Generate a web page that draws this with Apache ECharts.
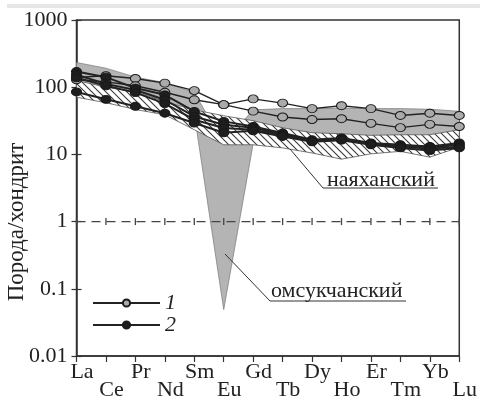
<!DOCTYPE html>
<html>
<head>
<meta charset="utf-8">
<script src="https://cdn.jsdelivr.net/npm/echarts@6/dist/echarts.min.js"></script>
<style>
html,body{margin:0;padding:0;background:#fff;}
#chart{width:480px;height:402px;}
</style>
</head>
<body>
<div id="chart"></div>
<script>
// ---- data ----
var elements = ['La','Ce','Pr','Nd','Sm','Eu','Gd','Tb','Dy','Ho','Er','Tm','Yb','Lu'];
var yTicks = [0.01, 0.1, 1, 10, 100, 1000];
// type 1 (grey symbols)
var type1a = [140, 148, 135, 115, 89, 55, 67, 58, 48, 53, 48, 38, 41, 38];
var type1b = [129, 120, 105, 84, 65, 55, 44, 36, 33, 34, 29, 25, 28, 26];
// type 2 (black symbols)
var type2a = [171, 141, 97, 77, 43.5, 31, 26, 20.8, 16.5, 17.5, 14.8, 13.9, 13.1, 14.8];
var type2b = [153, 112, 91, 65, 36.7, 27.6, 24.9, 20, 16, 17.1, 14.4, 13.7, 12.8, 13.9];
var type2c = [138, 105, 83, 57, 32.8, 24.7, 23.3, 19.3, 15.7, 16.8, 14.2, 13, 12.2, 13];
var type2d = [85, 66, 52, 41, 29.3, 21, 22.5, 18.5, 15.4, 16.3, 13.9, 12.5, 11.4, 12.5];
// field "омсукчанский" (grey)
var omsUpper = [233, 192, 141, 117, 83, 14.6, 46, 48, 48, 48.6, 48, 48, 47, 43.8];
var omsLower = [91, 77, 65, 55, 40, 0.049, 14.4, 16.5, 15.4, 14.4, 14.4, 14.4, 14.4, 16.5];
// field "наяханский" (hatched)
var nayUpper = [126, 100, 85, 61, 46, 37.6, 31.7, 24.9, 21, 20.3, 19.2, 19.6, 19.6, 23.3];
var nayLower = [71, 58.7, 46.6, 38.9, 23.3, 13.9, 13.9, 12.5, 10.5, 8.5, 10.2, 11.1, 9.1, 12.8];
// chondrite = 1 reference
var unityLine = [1,1,1,1,1,1,1,1,1,1,1,1,1,1];

var FONT = "'Liberation Serif','Times New Roman',serif";

function makeHatch(){
  var s = 7;
  var c = document.createElement('canvas');
  c.width = s; c.height = s;
  var g = c.getContext('2d');
  g.fillStyle = '#ffffff';
  g.fillRect(0,0,s,s);
  g.strokeStyle = '#3a3a3a';
  g.lineWidth = 1.1;
  g.beginPath();
  g.moveTo(-1,-1); g.lineTo(s+1,s+1);
  g.moveTo(-s-1,-1); g.lineTo(1,s+1);
  g.moveTo(s-1,-1); g.lineTo(2*s+1,s+1);
  g.stroke();
  return c;
}
var hatch = makeHatch();

function bandRenderer(upper, lower, style){
  return function(params, api){
    var pts = [];
    for (var i = 0; i < upper.length; i++) pts.push(api.coord([i, upper[i]]));
    for (var j = lower.length - 1; j >= 0; j--) pts.push(api.coord([j, lower[j]]));
    return {type:'polygon', shape:{points:pts}, style:style};
  };
}

function lineSeries(name, data, fill, width){
  return {
    name: name, type:'line', data:data, z:5,
    symbol:'circle', symbolSize:[10,8],
    lineStyle:{color:'#222', width:width},
    itemStyle:{color:fill, borderColor:'#1a1a1a', borderWidth:1},
    emphasis:{disabled:true}
  };
}

var chart = echarts.init(document.getElementById('chart'), null, {renderer:'canvas'});
var option = {
  animation:false,
  backgroundColor:'#fff',
  grid:{left:76.5, right:18.5, top:20, bottom:46, show:true, borderColor:'#333', borderWidth:1.5, backgroundColor:'transparent'},
  xAxis:[{
    type:'category', data:elements, boundaryGap:false,
    axisLine:{lineStyle:{color:'#333', width:1.5}},
    axisTick:{length:6, lineStyle:{color:'#333', width:1.2}},
    axisLabel:{interval:0, fontFamily:FONT, fontSize:22, color:'#222', margin:7, lineHeight:18,
      padding:[0,0,0,11],
      formatter:function(v, i){ return (i % 2) ? '\n' + v : v; }},
    splitLine:{show:false}
  }],
  yAxis:[{
    type:'log', logBase:10, min:0.01, max:1000, splitNumber:5,
    axisLine:{show:true, lineStyle:{color:'#333', width:1.5}},
    axisTick:{show:true, length:5, lineStyle:{color:'#333', width:1.2}},
    axisLabel:{fontFamily:FONT, fontSize:22, color:'#222', margin:9,
      formatter:function(v){
        for (var k = 0; k < yTicks.length; k++) if (Math.abs(Math.log10(v) - Math.log10(yTicks[k])) < 1e-6) return String(yTicks[k]);
        return '';
      }},
    splitLine:{show:false}
  },{
    type:'log', logBase:10, min:0.01, max:1000, splitNumber:5, position:'left',
    axisLine:{show:false},
    axisTick:{show:true, inside:true, length:5, lineStyle:{color:'#333', width:1.2}},
    axisLabel:{show:false},
    splitLine:{show:false}
  }],
  legend:{
    data:['1','2'], orient:'vertical', left:92, top:292, padding:0,
    itemWidth:67, itemHeight:9, itemGap:0,
    textStyle:{fontFamily:FONT, fontStyle:'italic', fontSize:22, color:'#222'},
    selectedMode:false
  },
  graphic:[
    {type:'rect', left:7, top:4, shape:{width:473, height:4}, style:{fill:'#e6e6e6'}, silent:true},
    {type:'text', x:17, y:222, rotation:Math.PI/2,
      style:{text:'Порода/хондрит', font:'23px ' + FONT, fill:'#222', textAlign:'center', textVerticalAlign:'middle'}},
    {type:'text', x:327, y:180, z:20,
      style:{text:'наяханский', font:'22px ' + FONT, fill:'#222', textAlign:'left', textVerticalAlign:'middle'}},
    {type:'polyline', z:20, shape:{points:[[290,149],[323,188],[438,188]]}, style:{stroke:'#333', lineWidth:1, fill:null}},
    {type:'text', x:271, y:291.5, z:20,
      style:{text:'омсукчанский', font:'22px ' + FONT, fill:'#222', textAlign:'left', textVerticalAlign:'middle'}},
    {type:'polyline', z:20, shape:{points:[[225,254],[270,301],[406,301]]}, style:{stroke:'#333', lineWidth:1, fill:null}}
  ],
  series:[
    {type:'custom', name:'омсукчанский', z:1, silent:true, clip:false,
      data:[[0,1]],
      renderItem: bandRenderer(omsUpper, omsLower, {fill:'#b4b4b4', stroke:'#777', lineWidth:0.7})},
    {type:'custom', name:'наяханский', z:2, silent:true, clip:false,
      data:[[0,1]],
      renderItem: bandRenderer(nayUpper, nayLower, {fill:{image:hatch, repeat:'repeat'}, stroke:'#555', lineWidth:0.8})},
    {type:'line', name:'unity', data:unityLine, z:3, silent:true,
      symbol:'rect', symbolSize:[1.3,7], showSymbol:true,
      lineStyle:{color:'#444', width:1.3, type:[9,6]},
      itemStyle:{color:'#444'}},
    lineSeries('1', type1a, '#aaaaaa', 1.4),
    lineSeries('1', type1b, '#aaaaaa', 1.4),
    lineSeries('2', type2a, '#1e1e1e', 2),
    lineSeries('2', type2b, '#1e1e1e', 2),
    lineSeries('2', type2c, '#1e1e1e', 2),
    lineSeries('2', type2d, '#1e1e1e', 2)
  ]
};
chart.setOption(option);
</script>
</body>
</html>
